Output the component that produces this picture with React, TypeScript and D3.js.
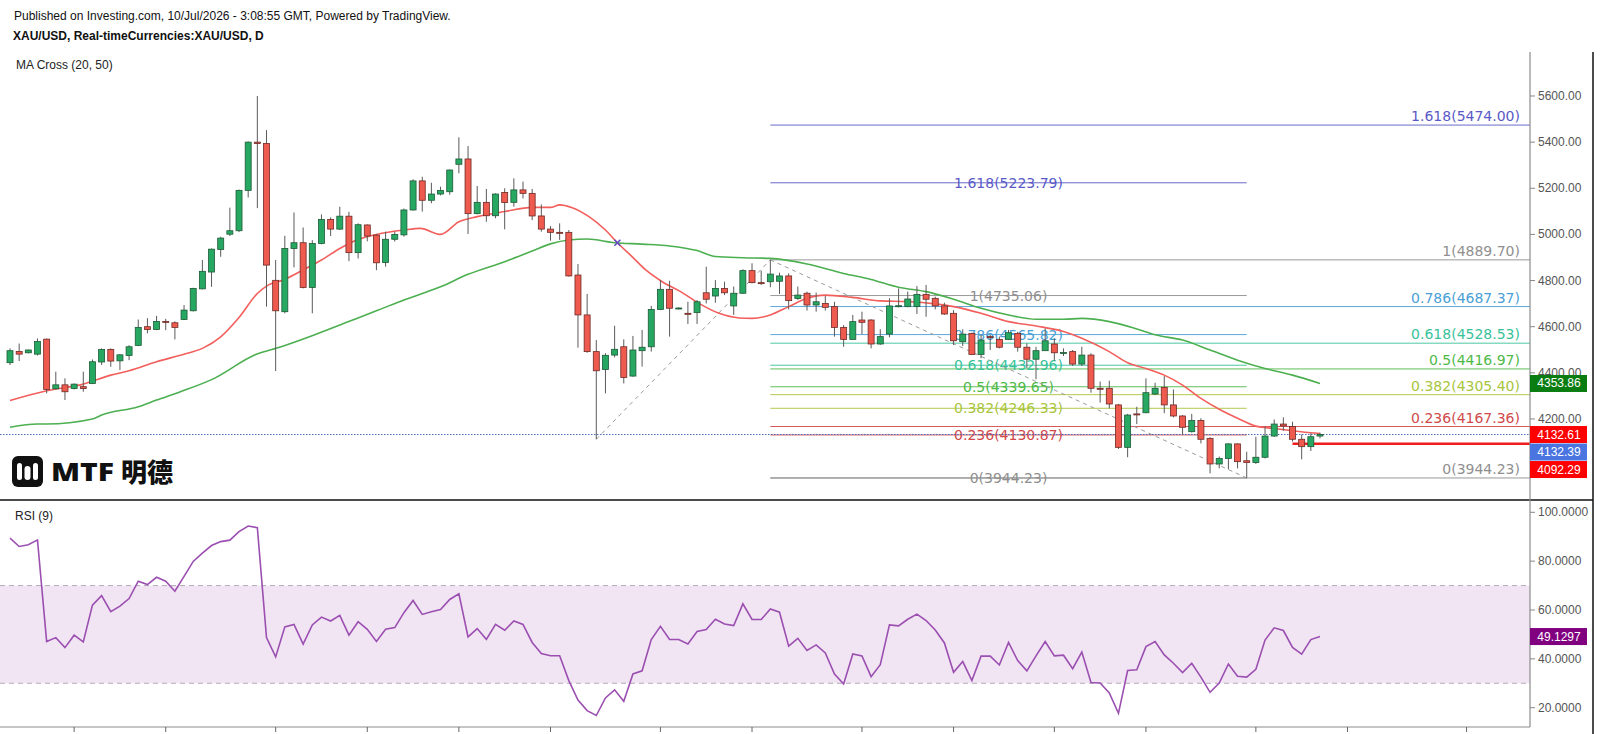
import React from "react";
import * as d3 from "d3";

// daily candles, [open, high, low, close]
const candles: [number, number, number, number][] = [
  [4444, 4506, 4434, 4496], [4493, 4527, 4451, 4481], [4487, 4501, 4484, 4499], [4481, 4549, 4475, 4536],
  [4546, 4549, 4311, 4328], [4331, 4405, 4328, 4348], [4348, 4376, 4282, 4318], [4332, 4354, 4328, 4351],
  [4340, 4405, 4318, 4332], [4354, 4458, 4351, 4448], [4447, 4506, 4434, 4501], [4501, 4506, 4426, 4451],
  [4452, 4481, 4412, 4478], [4475, 4520, 4455, 4513], [4519, 4631, 4516, 4597], [4600, 4637, 4571, 4588],
  [4588, 4647, 4585, 4623], [4623, 4634, 4585, 4620], [4617, 4623, 4545, 4597], [4631, 4694, 4629, 4672],
  [4669, 4769, 4666, 4766], [4764, 4889, 4762, 4840], [4837, 4939, 4773, 4936], [4935, 4990, 4903, 4984],
  [5001, 5116, 4993, 5016], [5016, 5194, 5010, 5191], [5191, 5403, 5160, 5400], [5400, 5600, 5114, 5394],
  [5394, 5452, 4687, 4867], [4801, 4889, 4408, 4669], [4665, 4994, 4658, 4939], [4939, 5095, 4857, 4964],
  [4964, 5030, 4766, 4770], [4770, 4975, 4658, 4961], [4961, 5087, 4957, 5065], [5065, 5074, 4993, 5023],
  [5023, 5120, 5019, 5079], [5079, 5098, 4884, 4921], [4921, 5048, 4896, 5042], [5041, 5043, 4970, 4993],
  [4997, 5001, 4845, 4877], [4878, 5012, 4860, 4979], [4979, 5012, 4969, 5000], [4998, 5112, 4990, 5106],
  [5106, 5239, 5103, 5232], [5232, 5250, 5099, 5148], [5148, 5224, 5135, 5175], [5175, 5207, 5169, 5190],
  [5185, 5282, 5172, 5279], [5304, 5421, 5265, 5327], [5327, 5383, 5002, 5090], [5090, 5210, 5087, 5139],
  [5139, 5197, 5055, 5081], [5081, 5178, 5070, 5175], [5182, 5200, 5022, 5138], [5139, 5243, 5120, 5193],
  [5193, 5229, 5156, 5178], [5178, 5197, 5062, 5080], [5080, 5130, 5012, 5023], [5023, 5036, 4973, 5009],
  [5009, 5048, 4976, 5008], [5009, 5019, 4817, 4820], [4824, 4872, 4509, 4651], [4651, 4742, 4487, 4492],
  [4492, 4542, 4112, 4409], [4415, 4485, 4311, 4476], [4477, 4604, 4467, 4502], [4513, 4545, 4354, 4380],
  [4386, 4560, 4383, 4499], [4496, 4586, 4427, 4511], [4513, 4690, 4492, 4675], [4675, 4802, 4672, 4762],
  [4762, 4799, 4557, 4680], [4680, 4684, 4675, 4681], [4658, 4708, 4612, 4654], [4661, 4716, 4612, 4708],
  [4747, 4860, 4701, 4719], [4733, 4802, 4704, 4766], [4766, 4795, 4737, 4747], [4690, 4774, 4651, 4745],
  [4745, 4849, 4742, 4843], [4843, 4875, 4788, 4791], [4791, 4843, 4781, 4788], [4795, 4890, 4771, 4828],
  [4797, 4834, 4742, 4820], [4820, 4831, 4675, 4713], [4722, 4774, 4716, 4737], [4745, 4752, 4670, 4694],
  [4694, 4748, 4665, 4708], [4701, 4733, 4670, 4684], [4687, 4708, 4557, 4597], [4597, 4607, 4513, 4545],
  [4545, 4651, 4545, 4622], [4629, 4665, 4568, 4619], [4629, 4632, 4506, 4525], [4525, 4589, 4521, 4557],
  [4568, 4723, 4554, 4690], [4690, 4766, 4684, 4691], [4687, 4752, 4684, 4720], [4687, 4776, 4655, 4740],
  [4740, 4781, 4643, 4719], [4723, 4730, 4675, 4690], [4690, 4704, 4651, 4655], [4658, 4672, 4521, 4539],
  [4535, 4589, 4516, 4568], [4571, 4574, 4477, 4480], [4480, 4564, 4463, 4542], [4557, 4564, 4499, 4554],
  [4545, 4557, 4506, 4511], [4545, 4586, 4542, 4574], [4571, 4578, 4492, 4511], [4511, 4528, 4420, 4459],
  [4459, 4513, 4372, 4496], [4496, 4593, 4496, 4539], [4525, 4550, 4453, 4487], [4487, 4506, 4473, 4488],
  [4492, 4499, 4430, 4438], [4438, 4513, 4430, 4477], [4477, 4485, 4314, 4333], [4333, 4362, 4271, 4330],
  [4333, 4366, 4246, 4265], [4261, 4265, 4070, 4077], [4077, 4222, 4034, 4217], [4222, 4253, 4178, 4221],
  [4227, 4376, 4225, 4314], [4308, 4357, 4304, 4333], [4337, 4386, 4225, 4261], [4261, 4328, 4207, 4213],
  [4213, 4217, 4131, 4164], [4145, 4222, 4141, 4193], [4193, 4203, 4094, 4112], [4116, 4121, 3964, 4005],
  [4005, 4037, 3986, 4029], [4029, 4094, 3982, 4092], [4092, 4094, 3986, 4015], [4019, 4058, 3944, 4011],
  [4011, 4123, 4005, 4034], [4034, 4167, 4029, 4126], [4126, 4198, 4123, 4178], [4178, 4207, 4149, 4170],
  [4167, 4188, 4102, 4112], [4112, 4133, 4025, 4080], [4080, 4138, 4061, 4123], [4126, 4141, 4116, 4133],
];

// moving averages, [candle index, value]
const ma20: [number, number][] = [
  [1, 4280], [5, 4322], [9, 4351], [12, 4390], [14, 4409], [17, 4448], [20, 4481], [22, 4506], [24, 4556],
  [26, 4640], [28, 4744], [29, 4776], [31, 4805], [33, 4846], [35, 4889], [37, 4939], [39, 4978], [41, 5000],
  [44, 5019], [45.8, 5026], [48, 5000], [50, 5055], [52, 5077], [55, 5099], [58, 5117], [60, 5117], [61, 5128],
  [62.3, 5117], [64.2, 5077], [66, 5019], [67.3, 4964], [68.9, 4904], [70.4, 4846], [72.2, 4795], [74.2, 4752],
  [76.2, 4701], [78.4, 4658], [80.6, 4638], [82, 4636], [84, 4651], [86, 4687], [88, 4723], [90, 4737], [93, 4727],
  [96, 4712], [99, 4709], [102, 4699], [104, 4687], [107, 4658], [110, 4622], [113, 4603], [116, 4579],
  [118, 4550], [121, 4492], [123, 4444], [125, 4419], [127, 4390], [129, 4347], [131, 4289], [133, 4242],
  [135, 4203], [137, 4169], [139, 4159], [141, 4149], [143, 4140], [144, 4137],
];
const ma50: [number, number][] = [
  [1, 4164], [4, 4178], [5, 4178], [10, 4200], [11, 4217], [15, 4253], [17, 4282], [19.6, 4318], [23.3, 4376],
  [27.7, 4477], [30.6, 4513], [34.2, 4564], [37.9, 4621], [41.2, 4672], [44, 4716], [48, 4773], [51, 4827],
  [55, 4882], [58, 4928], [60, 4959], [62, 4976], [64, 4980], [67, 4964], [70, 4958], [73, 4950], [76, 4930],
  [78, 4904], [81, 4899], [84, 4896], [88, 4872], [92, 4831], [95, 4805], [98, 4771], [101, 4752], [104, 4719],
  [107, 4680], [110, 4651], [113, 4632], [116, 4632], [118, 4636], [121, 4622], [124, 4590], [126, 4565],
  [129, 4542], [132, 4499], [135, 4455], [138, 4419], [141, 4390], [144, 4354],
];

const rsi = [
  89.4, 86.0, 86.7, 88.7, 47.1, 48.7, 44.6, 49.7, 46.9, 62.0, 65.9, 59.3, 61.6, 64.7, 71.8, 70.4, 73.4, 71.8,
  67.7, 73.8, 79.9, 83.3, 86.4, 88.0, 88.6, 92.1, 94.4, 93.7, 48.7, 40.8, 53.1, 54.1, 46.0, 53.9, 57.1, 55.5,
  57.8, 49.7, 55.2, 52.1, 47.1, 52.1, 52.8, 58.9, 63.9, 58.2, 59.3, 60.2, 64.3, 66.6, 49.0, 52.4, 48.0, 54.1,
  51.7, 55.5, 54.1, 46.7, 42.2, 41.3, 41.3, 31.1, 23.1, 18.8, 16.8, 24.0, 27.3, 22.6, 33.8, 35.1, 47.9, 53.3,
  47.9, 47.9, 46.1, 51.2, 52.0, 56.2, 54.3, 53.6, 62.5, 56.1, 56.1, 60.4, 59.1, 45.2, 48.4, 43.4, 45.7, 42.4,
  33.8, 29.7, 42.0, 41.2, 32.7, 37.6, 53.9, 53.5, 56.2, 58.3, 55.7, 51.8, 46.5, 34.5, 38.9, 31.1, 41.1, 41.1,
  37.5, 46.7, 39.3, 35.1, 41.2, 47.1, 41.2, 41.5, 36.0, 42.8, 30.3, 30.1, 26.0, 17.7, 35.2, 35.5, 45.0, 47.1,
  41.6, 38.2, 34.4, 38.2, 32.5, 26.3, 30.1, 37.9, 32.9, 32.5, 35.7, 47.7, 52.7, 51.6, 44.7, 41.9, 47.9, 49.13,
];

const priceTicks = [4200, 4400, 4600, 4800, 5000, 5200, 5400, 5600];
const rsiTicks = [20, 40, 60, 80, 100];
const timeTicks = [8, 18, 30, 40, 50, 60, 72, 82, 94, 104, 115, 125, 137, 147, 160];

// fibonacci retracements (levels and printed prices)
const fibLeftLevels = ["0", "0.236", "0.382", "0.5", "0.618", "0.786", "1", "1.618"];
const fibLeftPrices = [3944.23, 4130.87, 4246.33, 4339.65, 4432.96, 4565.82, 4735.06, 5223.79];
const fibRightLevels = ["0", "0.236", "0.382", "0.5", "0.618", "0.786", "1", "1.618"];
const fibRightPrices = [3944.23, 4167.36, 4305.4, 4416.97, 4528.53, 4687.37, 4889.7, 5474.0];
const fibColors: Record<string, string> = {
  "0": "#8f8f8f", "0.236": "#d0494b", "0.382": "#a9c53c", "0.5": "#4fb948",
  "0.618": "#37c29a", "0.786": "#4a9fd6", "1": "#8f8f8f", "1.618": "#5a5ac6",
};
const fibStart = 84, fibLeftEnd = 136;

// dashed trend lines between swing points [index, price]
const swings: [number, number][] = [[65, 4112], [84, 4889.7], [136, 3944.23]];
const maCross: [number, number] = [67.3, 4964];
const hLine: [number, number] = [141, 4092.29];
const lastPrice = 4132.61;

const priceBadges = [
  { price: 4353.86, text: "4353.86", color: "#0a7d12" },
  { price: 4132.61, text: "4132.61", color: "#ff0000" },
  { price: 4132.39, text: "4132.39", color: "#4a74e0" },
  { price: 4092.29, text: "4092.29", color: "#ff0000" },
];
const rsiLast = { value: 49.1297, text: "49.1297", color: "#800080" };

const AXIS_FONT = "'Liberation Sans', Arial, sans-serif";
const FIB_FONT = "'DejaVu Sans', Verdana, sans-serif";

export default function App() {
  const W = 1600, H = 734;
  const axisX = 1530, frameX = 1593;
  const priceTop = 52, priceBottom = 500, rsiBottom = 727;

  const x = d3.scaleLinear().domain([1, 144]).range([10, 1320]);
  const y = d3.scaleLinear().domain([3848.8, 5790.7]).range([priceBottom, priceTop]);
  const ry = d3.scaleLinear().domain([20, 100]).range([707.7, 512.3]);

  const maLine = d3
    .line<[number, number]>()
    .x((d) => x(d[0]))
    .y((d) => y(d[1]))
    .curve(d3.curveMonotoneX);
  const rsiLine = d3
    .line<number>()
    .x((_, i) => x(i + 1))
    .y((d) => ry(d));

  // stack badges so they don't overlap
  const badgeH = 17;
  let prevY = -Infinity;
  const badges = priceBadges.map((b) => {
    const cy = Math.max(y(b.price), prevY + badgeH + 0.5);
    prevY = cy;
    return { ...b, cy };
  });

  const leftMid = (x(fibStart) + x(fibLeftEnd)) / 2;

  return (
    <svg
      width={W}
      height={H}
      style={{ position: "absolute", left: 0, top: 0, background: "#fff", display: "block" }}
    >
      <rect width={W} height={H} fill="#fff" />

      {/* header */}
      <g fontFamily={AXIS_FONT} fontSize={12} fill="#111">
        <text x={14} y={19.5}>
          Published on Investing.com, 10/Jul/2026 - 3:08:55 GMT, Powered by TradingView.
        </text>
        <text x={13} y={39.5} fontWeight="bold">
          XAU/USD, Real-timeCurrencies:XAU/USD, D
        </text>
        <text x={16} y={69} fill="#222">MA Cross (20, 50)</text>
        <text x={15} y={520} fill="#222">RSI (9)</text>
      </g>

      {/* RSI band */}
      <rect x={0} y={ry(70)} width={axisX} height={ry(30) - ry(70)} fill="#f1e4f3" />
      {[70, 30].map((v) => (
        <line key={v} x1={0} x2={axisX} y1={ry(v)} y2={ry(v)} stroke="#b5a9b8" strokeDasharray="5,4" />
      ))}
      <path d={rsiLine(rsi) || ""} fill="none" stroke="#9b4fb0" strokeWidth={1.6} />

      {/* fib retracements */}
      {fibLeftPrices.map((p, i) => (
        <line key={"fl" + i} x1={x(fibStart)} x2={x(fibLeftEnd)} y1={y(p)} y2={y(p)}
          stroke={fibColors[fibLeftLevels[i]]} strokeWidth={1} opacity={0.9} />
      ))}
      {fibRightPrices.map((p, i) => (
        <line key={"fr" + i} x1={x(fibStart)} x2={axisX} y1={y(p)} y2={y(p)}
          stroke={fibColors[fibRightLevels[i]]} strokeWidth={1} opacity={0.9} />
      ))}
      <g fontFamily={FIB_FONT} fontSize={14}>
        {fibLeftPrices.map((p, i) => (
          <text key={"tl" + i} x={leftMid} y={y(p)} textAnchor="middle" dominantBaseline="central"
            fill={fibColors[fibLeftLevels[i]]}>
            {`${fibLeftLevels[i]}(${p.toFixed(2)})`}
          </text>
        ))}
        {fibRightPrices.map((p, i) => (
          <text key={"tr" + i} x={1520} y={y(p) - 4} textAnchor="end" fill={fibColors[fibRightLevels[i]]}>
            {`${fibRightLevels[i]}(${p.toFixed(2)})`}
          </text>
        ))}
      </g>

      {/* swing trend lines */}
      {swings.slice(1).map((s, i) => (
        <line key={"sw" + i} x1={x(swings[i][0])} y1={y(swings[i][1])} x2={x(s[0])} y2={y(s[1])}
          stroke="#9a9a9a" strokeDasharray="4,4" />
      ))}

      {/* last price dotted line and horizontal ray */}
      <line x1={0} x2={axisX} y1={y(lastPrice)} y2={y(lastPrice)} stroke="#4a6db8" strokeDasharray="1.5,1.5" />
      <line x1={x(hLine[0])} x2={axisX} y1={y(hLine[1])} y2={y(hLine[1])} stroke="#f01e1e" strokeWidth={2.5} />

      {/* moving averages */}
      <path d={maLine(ma50) || ""} fill="none" stroke="#4caf50" strokeWidth={1.6} />
      <path d={maLine(ma20) || ""} fill="none" stroke="#f25f5c" strokeWidth={1.6} />

      {/* candles */}
      {candles.map(([o, h, l, c], i) => {
        const cx = x(i + 1);
        const up = c >= o;
        const top = y(Math.max(o, c));
        const bh = Math.max(1, y(Math.min(o, c)) - top);
        return (
          <g key={"c" + i}>
            <line x1={cx} x2={cx} y1={y(h)} y2={y(l)} stroke="#5a5a5a" strokeWidth={1} />
            <rect x={cx - 3} y={top} width={6} height={bh}
              fill={up ? "#26a862" : "#ef5a4f"} stroke={up ? "#1d5a36" : "#6e2a25"} strokeWidth={0.8} />
          </g>
        );
      })}

      {/* MA cross marker */}
      <g transform={`translate(${x(maCross[0])},${y(maCross[1])})`} stroke="#5b4fc0" strokeWidth={1.6}>
        <line x1={-3} x2={3} y1={-3} y2={3} />
        <line x1={-3} x2={3} y1={3} y2={-3} />
      </g>

      {/* logo */}
      <g>
        <rect x={12} y={456} width={31} height={31} rx={6} fill="#111" />
        <rect x={17} y={463} width={5} height={17} rx={2.5} fill="#fff" />
        <rect x={24.5} y={466} width={6} height={14} rx={3} fill="#fff" />
        <rect x={33} y={463} width={5} height={17} rx={2.5} fill="#fff" />
        <text x={51} y={481} fontFamily="'Noto Sans', sans-serif" fontWeight={900} fontSize={24}
          textLength={63} lengthAdjust="spacingAndGlyphs" fill="#111">MTF</text>
        <text x={121} y={482} fontFamily="'Noto Sans CJK SC', sans-serif" fontWeight={900} fontSize={26}
          fill="#111">明德</text>
      </g>

      {/* panel separator and frame */}
      <line x1={0} x2={frameX} y1={priceBottom} y2={priceBottom} stroke="#111" strokeWidth={1.5} />
      <line x1={frameX} x2={frameX} y1={priceTop} y2={H} stroke="#111" strokeWidth={1.5} />
      <line x1={axisX} x2={axisX} y1={priceTop} y2={rsiBottom} stroke="#8c8c8c" strokeWidth={1.2} />
      <line x1={0} x2={axisX} y1={rsiBottom} y2={rsiBottom} stroke="#8c8c8c" strokeWidth={1.2} />
      {timeTicks.map((t) => (
        <line key={"t" + t} x1={x(t)} x2={x(t)} y1={rsiBottom} y2={rsiBottom + 5} stroke="#666" />
      ))}

      {/* price axis */}
      <g fontFamily={AXIS_FONT} fontSize={12} fill="#555">
        {priceTicks.map((p) => (
          <g key={"p" + p}>
            <line x1={axisX} x2={axisX + 5} y1={y(p)} y2={y(p)} stroke="#888" />
            <text x={axisX + 8} y={y(p)} dominantBaseline="central">{p.toFixed(2)}</text>
          </g>
        ))}
        {rsiTicks.map((v) => (
          <g key={"r" + v}>
            <line x1={axisX} x2={axisX + 5} y1={ry(v)} y2={ry(v)} stroke="#888" />
            <text x={axisX + 8} y={ry(v)} dominantBaseline="central">{v.toFixed(4)}</text>
          </g>
        ))}
      </g>

      {/* value badges */}
      <g fontFamily={AXIS_FONT} fontSize={12}>
        {badges.map((b) => (
          <g key={b.text}>
            <rect x={axisX} y={b.cy - badgeH / 2} width={57} height={badgeH} fill={b.color} />
            <text x={axisX + 29} y={b.cy} textAnchor="middle" dominantBaseline="central" fill="#fff">
              {b.text}
            </text>
          </g>
        ))}
        <rect x={axisX} y={ry(rsiLast.value) - badgeH / 2} width={57} height={badgeH} fill={rsiLast.color} />
        <text x={axisX + 29} y={ry(rsiLast.value)} textAnchor="middle" dominantBaseline="central" fill="#fff">
          {rsiLast.text}
        </text>
      </g>
    </svg>
  );
}
